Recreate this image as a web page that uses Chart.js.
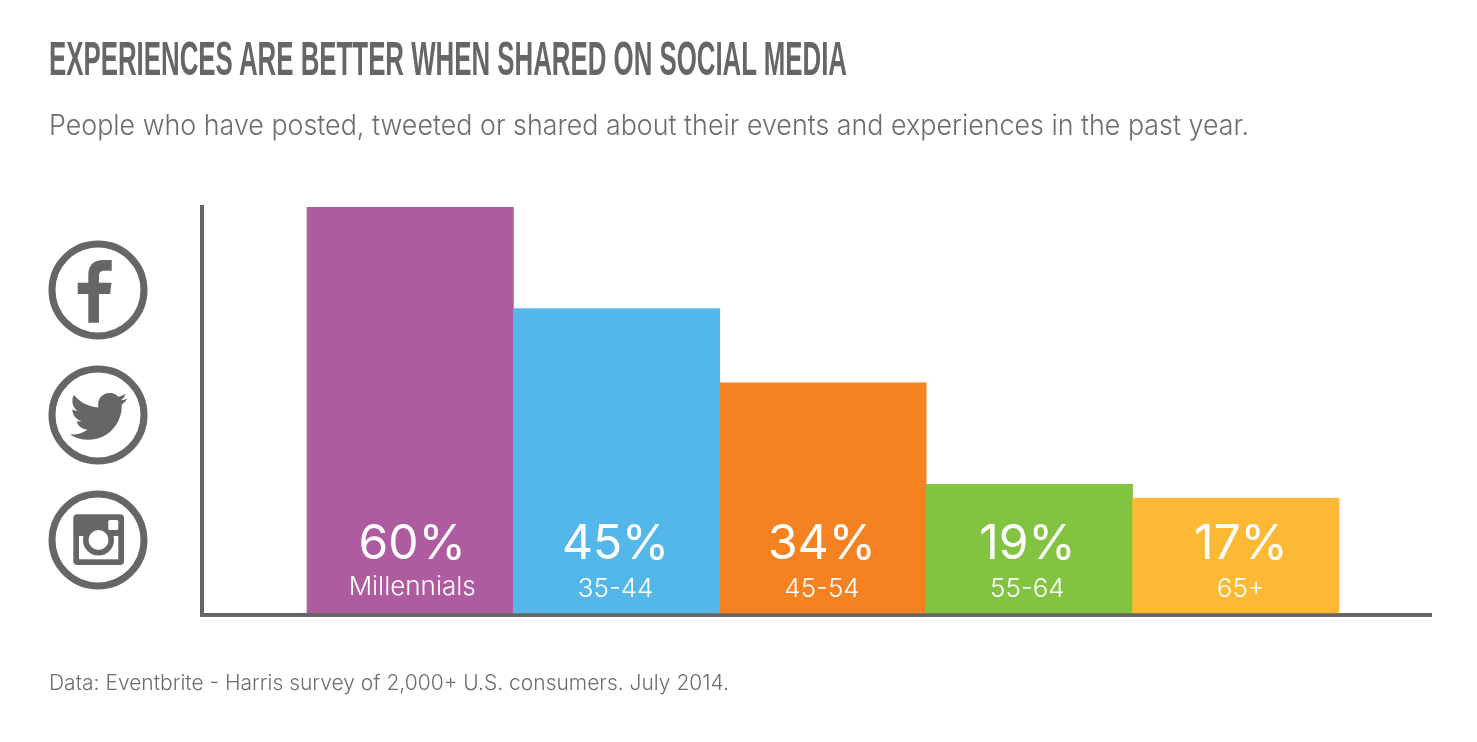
<!DOCTYPE html>
<html><head><meta charset="utf-8">
<script src="https://cdn.jsdelivr.net/npm/chart.js@4"></script>
<style>
html,body{margin:0;padding:0;background:#fff;overflow:hidden}
#wrap{position:relative;width:1477px;height:742px}
canvas{position:absolute;left:0;top:0}
.t{position:absolute;white-space:nowrap;transform-origin:0 0;line-height:1;margin:0}
#title{left:49px;top:31px;font:700 48px "Liberation Sans Narrow","Liberation Sans",sans-serif;color:#666}
#sub{left:49px;top:108px;font:300 28px Inter,Lato,sans-serif;color:#6d6d6d}
#foot{left:49px;top:670px;font:300 21px Inter,Lato,sans-serif;color:#6d6d6d}
svg{position:absolute;left:0;top:0}
</style></head>
<body><div id="wrap">
<canvas id="c" width="1477" height="742"></canvas>
<h1 class="t" id="title" data-w="798">EXPERIENCES ARE BETTER WHEN SHARED ON SOCIAL MEDIA</h1>
<div class="t" id="sub" data-w="1200">People who have posted, tweeted or shared about their events and experiences in the past year.</div>
<div class="t" id="foot" data-w="680">Data: Eventbrite - Harris survey of 2,000+ U.S. consumers. July 2014.</div>
<svg width="1477" height="742" fill="#666">
<g fill="none" stroke="#666" stroke-width="7"><circle cx="98" cy="290" r="46"/><circle cx="98" cy="415" r="46"/><circle cx="98" cy="540" r="46"/></g>
<path d="M88.3 322.7V294H77.7V282.7H88.3V275C88.3 265 94 260 103 260H111.7V270.7H105C100.5 270.7 99 272.5 99 276V282.7H111.5L110 294H99V322.7Z"/>
<path transform="translate(70 387.5) scale(2.4)" d="M23.953 4.57a10 10 0 01-2.825.775 4.958 4.958 0 002.163-2.723c-.951.555-2.005.959-3.127 1.184a4.92 4.92 0 00-8.384 4.482C7.69 8.095 4.067 6.13 1.64 3.162a4.822 4.822 0 00-.666 2.475c0 1.71.87 3.213 2.188 4.096a4.904 4.904 0 01-2.228-.616v.06a4.923 4.923 0 003.946 4.827 4.996 4.996 0 01-2.212.085 4.936 4.936 0 004.604 3.417 9.867 9.867 0 01-6.102 2.105c-.39 0-.779-.023-1.17-.067a13.995 13.995 0 007.557 2.209c9.053 0 13.998-7.496 13.998-13.985 0-.21 0-.42-.015-.63A9.935 9.935 0 0024 4.59z"/>
<rect x="73.3" y="514.3" width="50.7" height="50.7" rx="4"/>
<rect x="79" y="536" width="39.3" height="23.3" fill="#fff"/>
<circle cx="98.5" cy="540" r="15.5"/><circle cx="98.5" cy="540" r="10" fill="#fff"/>
<rect x="108.3" y="520" width="10" height="10" rx="1.5" fill="#fff"/>
</svg>
</div>
<script>
const categories = ['Millennials','35-44','45-54','55-64','65+'];
const shares = [60,45,34,19,17];
const barColors = ['#AF5BA0','#54B7EA','#F58220','#82C341','#FDB933'];

const barLabels = {
  id:'barLabels',
  afterDatasetsDraw(chart,args,opts){
    const ctx = chart.ctx, meta = chart.getDatasetMeta(0);
    ctx.save();
    ctx.fillStyle='#fff'; ctx.textAlign='center'; ctx.textBaseline='alphabetic';
    meta.data.forEach((bar,i)=>{
      const x = bar.x + opts.nudge[i];
      ctx.font='400 48px Inter,Lato,sans-serif';
      ctx.fillText(shares[i]+'%',x,559);
      ctx.font='300 26px Inter,Lato,sans-serif';
      ctx.fillText(categories[i],x,i===0?595:597);
    });
    ctx.restore();
  }
};
new Chart(document.getElementById('c'),{
  type:'bar',
  data:{datasets:[{
    data:shares.map((v,i)=>({x:i,y:v})),
    backgroundColor:barColors,
    barThickness:206.4,
    borderWidth:0
  }]},
  options:{
    responsive:false,animation:false,devicePixelRatio:1,
    layout:{padding:{left:202,right:46,top:207,bottom:127}},
    plugins:{legend:{display:false},tooltip:{enabled:false},title:{display:false},barLabels:{nudge:[2,-1,-1,-2,5]}},
    scales:{
      x:{type:'linear',offset:false,min:-1.0087,max:4.9458,
         grid:{display:false,drawTicks:false,offset:false},ticks:{display:false},border:{display:true,color:'#666',width:4}},
      y:{min:-0.2956,max:60,
         grid:{display:false,drawTicks:false},ticks:{display:false},border:{display:true,color:'#666',width:4}}
    }
  },
  plugins:[barLabels]
});
function fit(){
  document.querySelectorAll('.t').forEach(el=>{
    const w=el.getBoundingClientRect().width;
    el.style.transform='scaleX('+(+el.dataset.w/w)+')';
  });
}
fit();
</script>
</body></html>
